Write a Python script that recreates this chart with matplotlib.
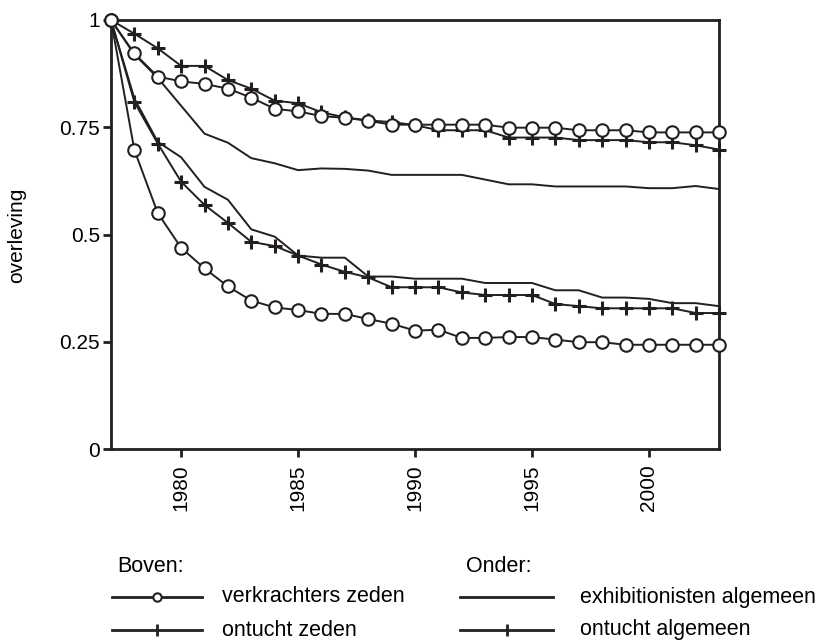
import matplotlib
matplotlib.use('Agg')
import matplotlib.pyplot as plt
from matplotlib.lines import Line2D

plt.rcParams['font.family'] = ['Liberation Sans', 'DejaVu Sans']

years = list(range(1977, 2004))

# upper group
verkrachters_zeden = [1.0, 0.922, 0.868, 0.857, 0.851, 0.84, 0.819, 0.793, 0.787, 0.776,
                      0.772, 0.765, 0.756, 0.756, 0.756, 0.756, 0.756, 0.749, 0.749, 0.749,
                      0.743, 0.743, 0.743, 0.738, 0.738, 0.738, 0.738]
ontucht_zeden = [1.0, 0.968, 0.934, 0.893, 0.893, 0.86, 0.84, 0.812, 0.806, 0.785,
                 0.773, 0.766, 0.762, 0.755, 0.743, 0.743, 0.743, 0.726, 0.726, 0.726,
                 0.72, 0.72, 0.72, 0.715, 0.715, 0.708, 0.698]
exhibitionisten_zeden = [1.0, 0.92, 0.865, 0.80, 0.735, 0.714, 0.678, 0.666, 0.65, 0.654,
                         0.653, 0.649, 0.639, 0.639, 0.639, 0.639, 0.628, 0.617, 0.617, 0.612,
                         0.612, 0.612, 0.612, 0.608, 0.608, 0.613, 0.606]

# lower group
exhibitionisten_algemeen = [1.0, 0.817, 0.716, 0.68, 0.611, 0.581, 0.512, 0.495, 0.451, 0.446,
                            0.446, 0.402, 0.402, 0.397, 0.397, 0.397, 0.387, 0.387, 0.387, 0.37,
                            0.37, 0.353, 0.353, 0.35, 0.34, 0.34, 0.333]
ontucht_algemeen = [1.0, 0.809, 0.712, 0.623, 0.569, 0.527, 0.483, 0.473, 0.451, 0.43,
                    0.413, 0.40, 0.377, 0.377, 0.377, 0.365, 0.359, 0.359, 0.359, 0.338,
                    0.333, 0.328, 0.328, 0.328, 0.328, 0.317, 0.317]
verkrachters_algemeen = [1.0, 0.697, 0.55, 0.469, 0.421, 0.379, 0.346, 0.33, 0.324, 0.315,
                         0.315, 0.303, 0.292, 0.276, 0.278, 0.259, 0.259, 0.261, 0.261, 0.255,
                         0.249, 0.249, 0.243, 0.243, 0.243, 0.243, 0.243]

ytick_vals = [0, 0.25, 0.5, 0.75, 1]
ytick_labels = ['0', '0.25', '0.5', '0.75', '1']
xtick_vals = [1980, 1985, 1990, 1995, 2000]

ink = '#231f20'

fig = plt.figure(figsize=(8.19, 6.41), dpi=100)
ax = fig.add_axes([0.1355, 0.2995, 0.7425, 0.6693])

lw = 1.4
circ = dict(marker='o', markersize=9, markerfacecolor='white', markeredgecolor=ink,
            markeredgewidth=1.5)
plus = dict(marker='+', markersize=10, markeredgewidth=2.2, color=ink)

ax.plot(years, exhibitionisten_zeden, color=ink, lw=lw, zorder=2)
ax.plot(years, exhibitionisten_algemeen, color=ink, lw=lw, zorder=2)
ax.plot(years, ontucht_zeden, lw=lw, zorder=3, **plus)
ax.plot(years, ontucht_algemeen, lw=lw, zorder=3, **plus)
ax.plot(years, verkrachters_zeden, color=ink, lw=lw, zorder=4, **circ)
ax.plot(years, verkrachters_algemeen, color=ink, lw=lw, zorder=4, **circ)

ax.set_xlim(1977, 2003)
ax.set_ylim(0, 1)
ax.set_yticks(ytick_vals)
ax.set_yticklabels(ytick_labels)
ax.set_xticks(xtick_vals)
ax.set_xticklabels([str(x) for x in xtick_vals], rotation=90)
ax.tick_params(axis='both', direction='out', length=6, width=2, labelsize=15, color=ink)
ax.tick_params(axis='x', pad=5)
ax.tick_params(axis='y', pad=2)
for s in ax.spines.values():
    s.set_linewidth(2)
    s.set_color(ink)
for line in ax.get_lines():
    line.set_clip_on(False)

fig.text(17 / 819, 1 - 235 / 641, 'overleving', rotation=90, fontsize=15,
         ha='center', va='center')

# legend drawn by hand below the chart
def fx(px):
    return px / 819

def fy(py):
    return 1 - py / 641

fig.text(fx(117), fy(567), 'Boven:', fontsize=15.5, va='center')
fig.text(fx(466), fy(567), 'Onder:', fontsize=15.5, va='center')

rows = [
    (112, 202, 157, 597, 'o', 'verkrachters zeden', 222),
    (112, 202, 157, 630, '|', 'ontucht zeden', 222),
    (460, 553, 507, 597, None, 'exhibitionisten algemeen', 580),
    (460, 553, 507, 630, '+', 'ontucht algemeen', 580),
]
for x0, x1, xm, yy, mk, label, xt in rows:
    fig.add_artist(Line2D([fx(x0), fx(x1)], [fy(yy), fy(yy)], transform=fig.transFigure,
                          color=ink, lw=2))
    if mk == 'o':
        fig.add_artist(Line2D([fx(xm)], [fy(yy)], transform=fig.transFigure, marker='o',
                              markersize=6, markerfacecolor='white',
                              markeredgecolor=ink, markeredgewidth=1.5))
    elif mk is not None:
        fig.add_artist(Line2D([fx(xm)], [fy(yy)], transform=fig.transFigure, marker='|',
                              markersize=8, markeredgewidth=2, color=ink))
    fig.text(fx(xt), fy(yy), label, fontsize=15.5, va='center')

fig.savefig('out.png', dpi=100)
